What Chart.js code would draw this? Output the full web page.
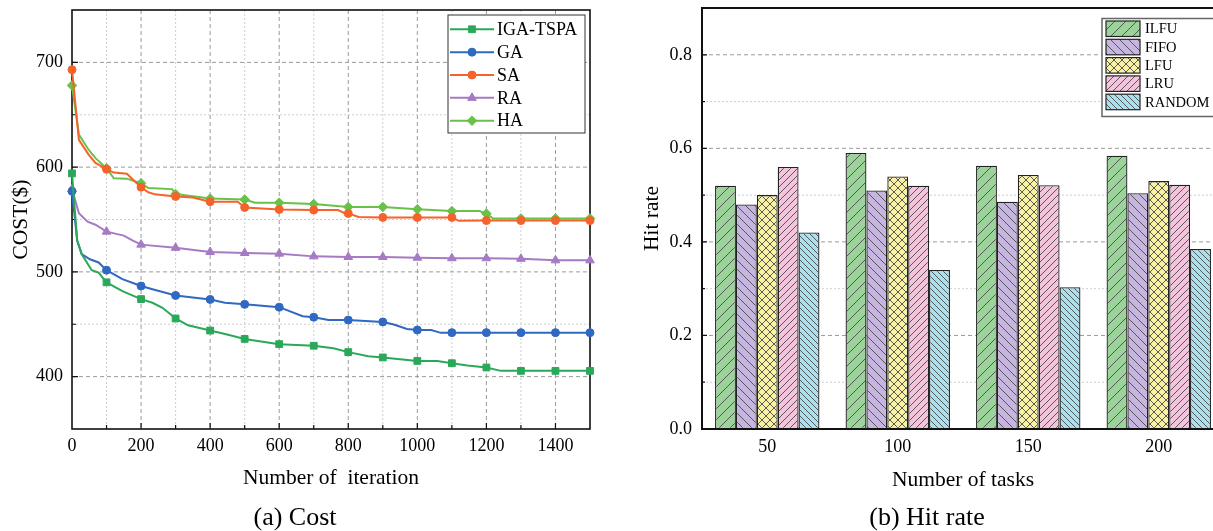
<!DOCTYPE html>
<html><head><meta charset="utf-8">
<script src="https://cdn.jsdelivr.net/npm/chart.js@4"></script>
<style>
html,body{margin:0;padding:0;background:#fff;overflow:hidden;width:1213px;height:531px;position:relative;}
#c1{position:absolute;left:0;top:0;}
#c2{position:absolute;left:630px;top:0;}
</style></head><body>
<canvas id="c1" width="640" height="531"></canvas>
<canvas id="c2" width="640" height="531"></canvas>
<script>
// ---------- DATA: (a) Cost ----------
const igaIter = [0,15,28,57,77,100,146,200,233,262,300,336,400,452,500,600,700,757,800,858,900,1000,1058,1100,1145,1200,1242,1300,1400,1500];
const igaCost = [594,530,517,501.6,499.3,490,481.7,474,470.5,465.7,455.5,449,444,440,436,431,429.5,427,423.4,419.5,418.3,415,415,412.8,410.6,408.7,405.5,405.5,405.5,405.5];
const gaIter = [0,15,28,52,77,100,146,200,233,252,300,400,443,500,600,668,700,743,800,900,932,970,1000,1040,1068,1100,1200,1300,1400,1500];
const gaCost = [577,530,517,512,509,501.6,493,486.5,483.4,481.7,477.5,473.7,470.5,469,466.3,457.7,456.7,454,454,452.2,449.7,445.5,444.5,444.5,441.8,442,442,442,442,442];
const saIter = [0,20,48,68,100,121,159,183,200,221,240,300,350,400,480,500,600,700,770,790,800,830,900,1000,1100,1120,1200,1300,1400,1500];
const saCost = [693,626,612,604,598,594.8,593.6,586,580.8,576,574,572,571,567,567,561.5,559.6,559,559,556,555.8,552.5,552,552,552,548.7,549,549,549,549];
const raIter = [0,20,45,68,100,150,175,200,300,400,500,600,700,800,900,1000,1100,1200,1300,1400,1500];
const raCost = [579,556,548,545,538.4,534.6,530,526,523,519,518,517.4,514.8,514.2,514.2,513.5,513,513,512.5,511,511];
const haIter = [0,20,48,68,100,121,159,200,221,290,300,400,500,530,600,700,800,900,1000,1100,1180,1200,1220,1300,1400,1500];
const haCost = [678,631,616.6,608.6,599,589.4,589,584.6,580,579,574.3,570,569,566,566,564.7,562,562,559.8,558,558,555.6,551,551,551,551];
const costSeriesNames = ['IGA-TSPA','GA','SA','RA','HA'];

// ---------- DATA: (b) Hit rate ----------
const taskLabels = ['50','100','150','200'];
const ilfu   = [0.52, 0.59, 0.563, 0.584];
const fifo   = [0.48, 0.51, 0.486, 0.504];
const lfu    = [0.50, 0.54, 0.543, 0.53];
const lru    = [0.56, 0.52, 0.521, 0.522];
const randomHit = [0.42, 0.34, 0.303, 0.385];
const policyNames = ['ILFU','FIFO','LFU','LRU','RANDOM'];

const FONT = '"Liberation Serif", "Times New Roman", serif';
Chart.defaults.font.family = FONT;
Chart.defaults.color = '#000';

// ---------- helpers ----------
function drawMarker(ctx, style, r, x, y, color) {
  ctx.save();
  ctx.fillStyle = color; ctx.strokeStyle = color; ctx.lineWidth = 1;
  ctx.beginPath();
  if (style === 'rect') { const s = r * Math.SQRT1_2; ctx.rect(x - s, y - s, 2*s, 2*s); }
  else if (style === 'circle') { ctx.arc(x, y, r, 0, Math.PI*2); }
  else if (style === 'triangle') {
    ctx.moveTo(x, y - r); ctx.lineTo(x + r*Math.cos(Math.PI/6), y + r*0.5); ctx.lineTo(x - r*Math.cos(Math.PI/6), y + r*0.5); ctx.closePath();
  } else if (style === 'rectRot') {
    ctx.moveTo(x, y - r); ctx.lineTo(x + r, y); ctx.lineTo(x, y + r); ctx.lineTo(x - r, y); ctx.closePath();
  }
  ctx.fill(); ctx.stroke();
  ctx.restore();
}

function dashedLine(ctx, x1, y1, x2, y2, major) {
  ctx.save();
  ctx.strokeStyle = major ? '#9a9a9a' : '#cfcfcf';
  ctx.setLineDash(major ? [4, 3] : [2, 2]);
  ctx.lineWidth = 1;
  ctx.beginPath(); ctx.moveTo(x1, y1); ctx.lineTo(x2, y2); ctx.stroke();
  ctx.restore();
}

function noPad(s) { s.paddingTop = 0; s.paddingBottom = 0; s.paddingLeft = 0; s.paddingRight = 0; }

// ---------- Chart (a) ----------
const costDefs = [
  {iter: igaIter, cost: igaCost, color: '#2aa85a', style: 'rect', r: 4.8},
  {iter: gaIter,  cost: gaCost,  color: '#2f69c2', style: 'circle', r: 4},
  {iter: saIter,  cost: saCost,  color: '#f5622b', style: 'circle', r: 4},
  {iter: raIter,  cost: raCost,  color: '#a67ac4', style: 'triangle', r: 5},
  {iter: haIter,  cost: haCost,  color: '#69c248', style: 'rectRot', r: 4.8},
];

const costFrame = {
  id: 'costFrame',
  beforeDatasetsDraw(chart) {
    const {ctx, chartArea: a, scales: {x, y}} = chart;
    x.ticks.forEach(t => {
      if (t.value <= x.min || t.value >= x.max) return;
      const px = x.getPixelForValue(t.value);
      dashedLine(ctx, px, a.top, px, a.bottom, t.value % 200 === 0);
    });
    y.ticks.forEach(t => {
      if (t.value <= y.min || t.value >= y.max) return;
      const py = y.getPixelForValue(t.value);
      dashedLine(ctx, a.left, py, a.right, py, t.value % 100 === 0);
    });
    ctx.save();
    ctx.strokeStyle = '#111'; ctx.lineWidth = 1.2;
    ctx.beginPath();
    x.ticks.forEach(t => {
      if (t.value <= x.min || t.value >= x.max) return;
      const px = x.getPixelForValue(t.value);
      const L = t.value % 200 === 0 ? 6 : 4;
      ctx.moveTo(px, a.bottom); ctx.lineTo(px, a.bottom - L);
    });
    y.ticks.forEach(t => {
      if (t.value <= y.min || t.value >= y.max) return;
      const py = y.getPixelForValue(t.value);
      const L = t.value % 100 === 0 ? 6 : 4;
      ctx.moveTo(a.left, py); ctx.lineTo(a.left + L, py);
    });
    ctx.stroke();
    ctx.lineWidth = 1.6;
    ctx.strokeRect(a.left, a.top, a.right - a.left, a.bottom - a.top);
    ctx.restore();
  },
  afterDraw(chart) {
    const ctx = chart.ctx;
    ctx.save();
    ctx.strokeStyle = '#333'; ctx.lineWidth = 1;
    ctx.fillStyle = '#fff';
    ctx.fillRect(448, 15, 137, 118);
    ctx.strokeRect(448, 15, 137, 118);
    costSeriesNames.forEach((name, i) => {
      const d = costDefs[i];
      const cy = 29.3 + i * 22.85;
      ctx.strokeStyle = d.color; ctx.lineWidth = 2;
      ctx.beginPath(); ctx.moveTo(450, cy); ctx.lineTo(494, cy); ctx.stroke();
      drawMarker(ctx, d.style, d.r, 472, cy, d.color);
      ctx.fillStyle = '#000';
      ctx.font = '18px ' + FONT;
      ctx.textBaseline = 'middle'; ctx.textAlign = 'left';
      ctx.fillText(name, 497, cy + 1);
    });
    ctx.restore();
  }
};

new Chart(document.getElementById('c1'), {
  type: 'line',
  data: {
    datasets: costDefs.map((d, i) => ({
      label: costSeriesNames[i],
      data: d.iter.map((x, k) => ({x: x, y: d.cost[k]})),
      borderColor: d.color, backgroundColor: d.color,
      borderWidth: 2, tension: 0, clip: false,
      pointStyle: d.style,
      pointRadius: c => (c.raw && c.raw.x % 100 === 0) ? d.r : 0,
      pointHoverRadius: 0, pointBorderWidth: 1,
      pointBorderColor: d.color, pointBackgroundColor: d.color
    }))
  },
  options: {
    responsive: false, animation: false, devicePixelRatio: 1,
    layout: {padding: {top: 10, right: 50, left: 0, bottom: 0}},
    plugins: {
      legend: {display: false}, tooltip: {enabled: false},
      title: {display: true, position: 'bottom', text: '(a) Cost', color: '#000',
              font: {size: 26, lineHeight: 1, weight: 'normal'}, padding: {top: 6, bottom: 0}}
    },
    scales: {
      x: {
        type: 'linear', min: 0, max: 1500,
        grid: {display: false, drawTicks: false}, border: {display: false},
        ticks: {stepSize: 100, autoSkip: false, maxRotation: 0, padding: 6, color: '#000',
                font: {size: 18}, callback: v => (v % 200 === 0 ? String(v) : '')},
        title: {display: true, text: 'Number of  iteration', color: '#000', font: {size: 21.5}, padding: {top: 0, bottom: 8}},
        afterFit: s => { s.height = 70; noPad(s); }
      },
      y: {
        min: 350, max: 750,
        grid: {display: false, drawTicks: false}, border: {display: false},
        ticks: {stepSize: 50, padding: 9, color: '#000', font: {size: 18},
                callback: v => (v % 100 === 0 ? String(v) : '')},
        title: {display: true, text: 'COST($)', color: '#000', font: {size: 21.5}, padding: {top: 8, bottom: 0}},
        afterFit: s => { s.width = 72; noPad(s); }
      }
    }
  },
  plugins: [costFrame]
});

// ---------- Chart (b) ----------
const c2 = document.getElementById('c2');
const c2ctx = c2.getContext('2d');
function makePattern(bg, kind, p) {
  const c = document.createElement('canvas'); c.width = p; c.height = p;
  const g = c.getContext('2d');
  g.fillStyle = bg; g.fillRect(0, 0, p, p);
  g.strokeStyle = '#4a4a4a'; g.lineWidth = 0.9;
  g.beginPath();
  if (kind === '/' || kind === 'x') {
    g.moveTo(0, p); g.lineTo(p, 0);
    g.moveTo(-p/2, p/2); g.lineTo(p/2, -p/2);
    g.moveTo(p/2, p*1.5); g.lineTo(p*1.5, p/2);
  }
  if (kind === '\\' || kind === 'x') {
    g.moveTo(0, 0); g.lineTo(p, p);
    g.moveTo(-p/2, p/2); g.lineTo(p/2, p*1.5);
    g.moveTo(p/2, -p/2); g.lineTo(p*1.5, p/2);
  }
  g.stroke();
  return c2ctx.createPattern(c, 'repeat');
}
const barStyles = [
  makePattern('#9cd39b', '/', 11),
  makePattern('#c6b5de', '\\', 9),
  makePattern('#f8f2a2', 'x', 8),
  makePattern('#f3c4dc', '/', 7),
  makePattern('#abe0ee', '\\', 6),
];
const hitSeries = [ilfu, fifo, lfu, lru, randomHit];

const hitFrame = {
  id: 'hitFrame',
  beforeDatasetsDraw(chart) {
    const {ctx, chartArea: a, scales: {y}} = chart;
    y.ticks.forEach(t => {
      if (t.value <= y.min + 1e-9 || t.value >= y.max - 1e-9) return;
      const k = Math.round(t.value * 10);
      const py = y.getPixelForValue(t.value);
      dashedLine(ctx, a.left, py, a.right, py, k % 2 === 0);
    });
  },
  afterDatasetsDraw(chart) {
    const {ctx, chartArea: a, scales: {y}} = chart;
    ctx.save();
    ctx.strokeStyle = '#111'; ctx.lineWidth = 1.2;
    ctx.beginPath();
    y.ticks.forEach(t => {
      if (t.value <= y.min + 1e-9 || t.value >= y.max - 1e-9) return;
      const k = Math.round(t.value * 10);
      const py = y.getPixelForValue(t.value);
      ctx.moveTo(a.left, py); ctx.lineTo(a.left + (k % 2 === 0 ? 5 : 3), py);
    });
    ctx.stroke();
    ctx.lineWidth = 2;
    ctx.strokeRect(a.left, a.top, a.right - a.left, a.bottom - a.top);
    ctx.restore();
  },
  afterDraw(chart) {
    const ctx = chart.ctx;
    ctx.save();
    ctx.fillStyle = '#fff';
    ctx.fillRect(472, 18.5, 115, 98);
    ctx.strokeStyle = '#666'; ctx.lineWidth = 1.5;
    ctx.strokeRect(472, 18.5, 115, 98);
    policyNames.forEach((name, i) => {
      const top = 21 + i * 18.3;
      ctx.fillStyle = barStyles[i];
      ctx.fillRect(476, top, 34, 15.5);
      ctx.strokeStyle = '#222'; ctx.lineWidth = 1.2;
      ctx.strokeRect(476, top, 34, 15.5);
      ctx.fillStyle = '#000';
      ctx.font = '14.5px ' + FONT;
      ctx.textBaseline = 'middle'; ctx.textAlign = 'left';
      ctx.fillText(name, 515, top + 8.5);
    });
    ctx.restore();
  }
};

new Chart(c2, {
  type: 'bar',
  data: {
    labels: taskLabels,
    datasets: hitSeries.map((vals, i) => ({
      label: policyNames[i],
      data: vals,
      backgroundColor: barStyles[i],
      borderColor: '#222', borderWidth: 1.3, borderSkipped: false,
      categoryPercentage: 0.8, barPercentage: 1.0
    }))
  },
  options: {
    responsive: false, animation: false, devicePixelRatio: 1,
    layout: {padding: {top: 8, right: 46, left: 0, bottom: 0}},
    plugins: {
      legend: {display: false}, tooltip: {enabled: false},
      title: {display: true, position: 'bottom', text: '(b) Hit rate', color: '#000',
              font: {size: 26, lineHeight: 1, weight: 'normal'}, padding: {top: 6, bottom: 0}}
    },
    scales: {
      x: {
        grid: {display: false, drawTicks: false}, border: {display: false},
        ticks: {padding: 7, color: '#000', font: {size: 18}},
        title: {display: true, text: 'Number of tasks', color: '#000', font: {size: 21.5}, padding: {top: 0, bottom: 6}},
        afterFit: s => { s.height = 70; noPad(s); }
      },
      y: {
        min: 0, max: 0.9,
        grid: {display: false, drawTicks: false}, border: {display: false},
        ticks: {stepSize: 0.1, padding: 10, color: '#000', font: {size: 18},
                callback: v => { const k = Math.round(v * 10); return k % 2 === 0 ? (k / 10).toFixed(1) : ''; }},
        title: {display: true, text: 'Hit rate', color: '#000', font: {size: 21.5}, padding: {top: 9, bottom: 0}},
        afterFit: s => { s.width = 72; noPad(s); }
      }
    }
  },
  plugins: [hitFrame]
});
</script></body></html>
